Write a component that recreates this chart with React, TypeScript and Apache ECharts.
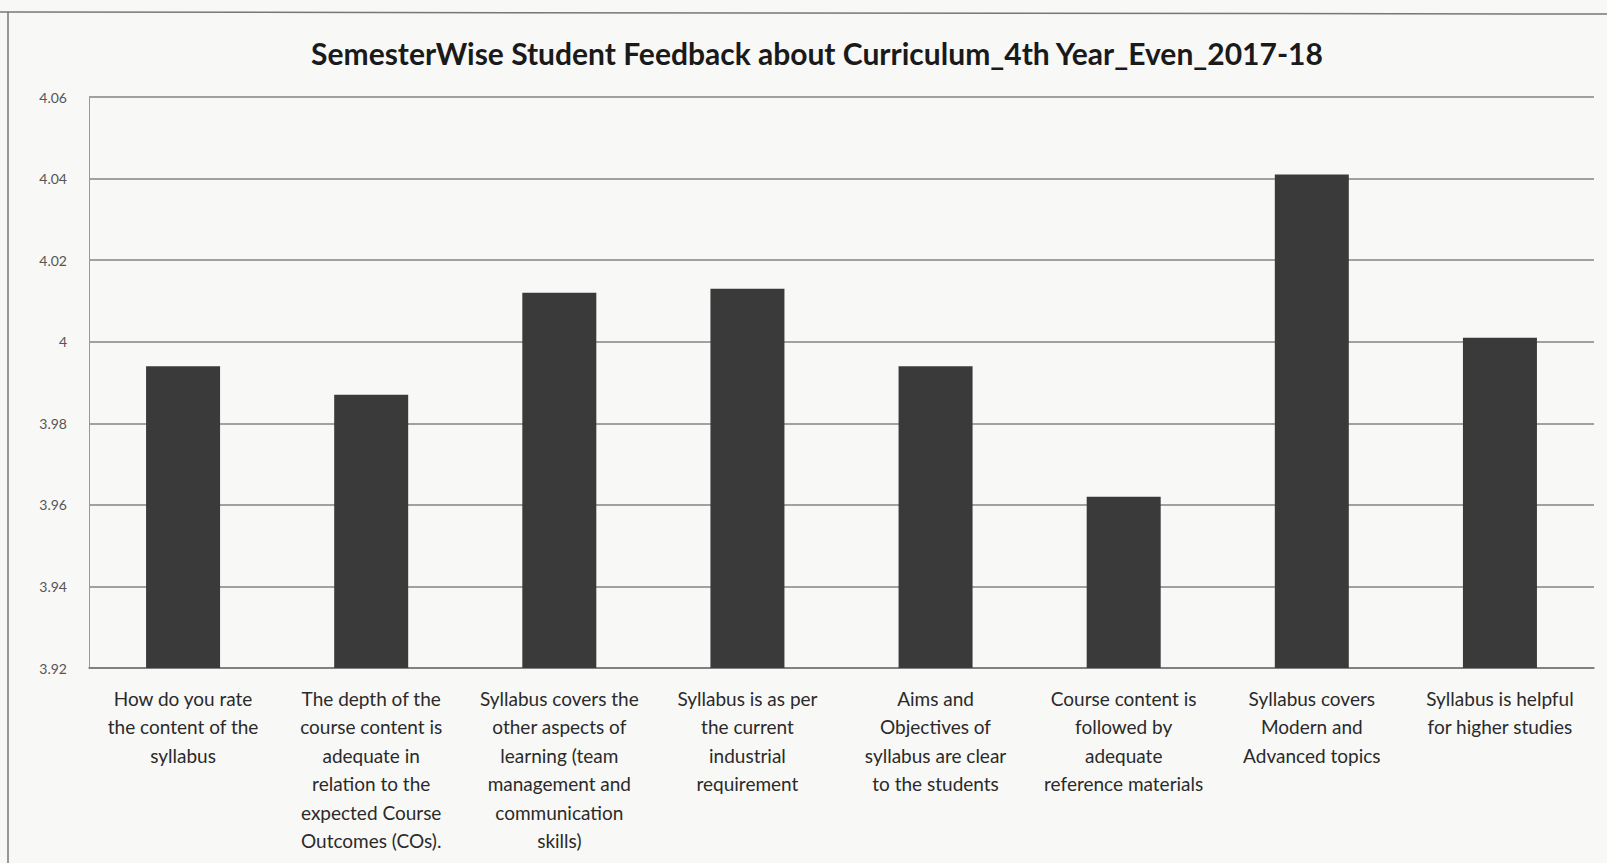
import React, { useEffect, useRef } from "react";
import * as echarts from "echarts";

const titleText = "SemesterWise Student Feedback about Curriculum_4th Year_Even_2017-18";
const categories = [
  "How do you rate\nthe content of the\nsyllabus",
  "The depth of the\ncourse content is\nadequate in\nrelation to the\nexpected Course\nOutcomes (COs).",
  "Syllabus covers the\nother aspects of\nlearning (team\nmanagement and\ncommunication\nskills)",
  "Syllabus is as per\nthe current\nindustrial\nrequirement",
  "Aims and\nObjectives of\nsyllabus are clear\nto the students",
  "Course content is\nfollowed by\nadequate\nreference materials",
  "Syllabus covers\nModern and\nAdvanced topics",
  "Syllabus is helpful\nfor higher studies",
];
const values = [3.994, 3.987, 4.012, 4.013, 3.994, 3.962, 4.041, 4.001];
const yMin = 3.92;
const yMax = 4.06;
const yStep = 0.02;

export default function App() {
  const ref = useRef<HTMLDivElement>(null);
  useEffect(() => {
    if (!ref.current) return;
    const chart = echarts.init(ref.current, null, { renderer: "svg" });
    chart.setOption({
      animation: false,
      backgroundColor: "#f8f8f7",
      textStyle: { fontFamily: "Lato" },
      title: {
        text: titleText,
        left: 812,
        textAlign: "center",
        top: 33,
        textStyle: { fontFamily: "Lato", fontWeight: "bold", fontSize: 30, color: "#1a1a1a" },
      },
      graphic: [
        { type: "line", shape: { x1: 0, y1: 12, x2: 1607, y2: 14 }, style: { stroke: "#777", lineWidth: 1.5 } },
        { type: "line", shape: { x1: 8, y1: 12, x2: 8, y2: 863 }, style: { stroke: "#777", lineWidth: 1.5 } },
      ],
      grid: { left: 89, right: 13, top: 97, bottom: 195, containLabel: false },
      xAxis: {
        type: "category",
        data: categories,
        axisTick: { show: false },
        axisLine: { show: true, lineStyle: { color: "#777", width: 1.5 } },
        axisLabel: {
          interval: 0,
          margin: 16,
          fontFamily: "Lato",
          fontSize: 19,
          lineHeight: 28.5,
          color: "#2a2a2a",
          align: "center",
        },
      },
      yAxis: {
        type: "value",
        min: yMin,
        max: yMax,
        interval: yStep,
        axisLine: { show: true, lineStyle: { color: "#999", width: 1 } },
        axisTick: { show: false },
        splitLine: { lineStyle: { color: "#858585", width: 1.5 } },
        axisLabel: {
          margin: 22,
          fontFamily: "Lato",
          fontSize: 14,
          color: "#555",
          formatter: (v: number) => String(+v.toFixed(2)),
        },
      },
      series: [
        {
          type: "bar",
          data: values,
          barWidth: 74,
          itemStyle: { color: "#3a3a3a" },
        },
      ],
    });
    return () => chart.dispose();
  }, []);
  return (
    <div
      ref={ref}
      style={{ position: "fixed", left: 0, top: 0, width: 1607, height: 863 }}
    />
  );
}
